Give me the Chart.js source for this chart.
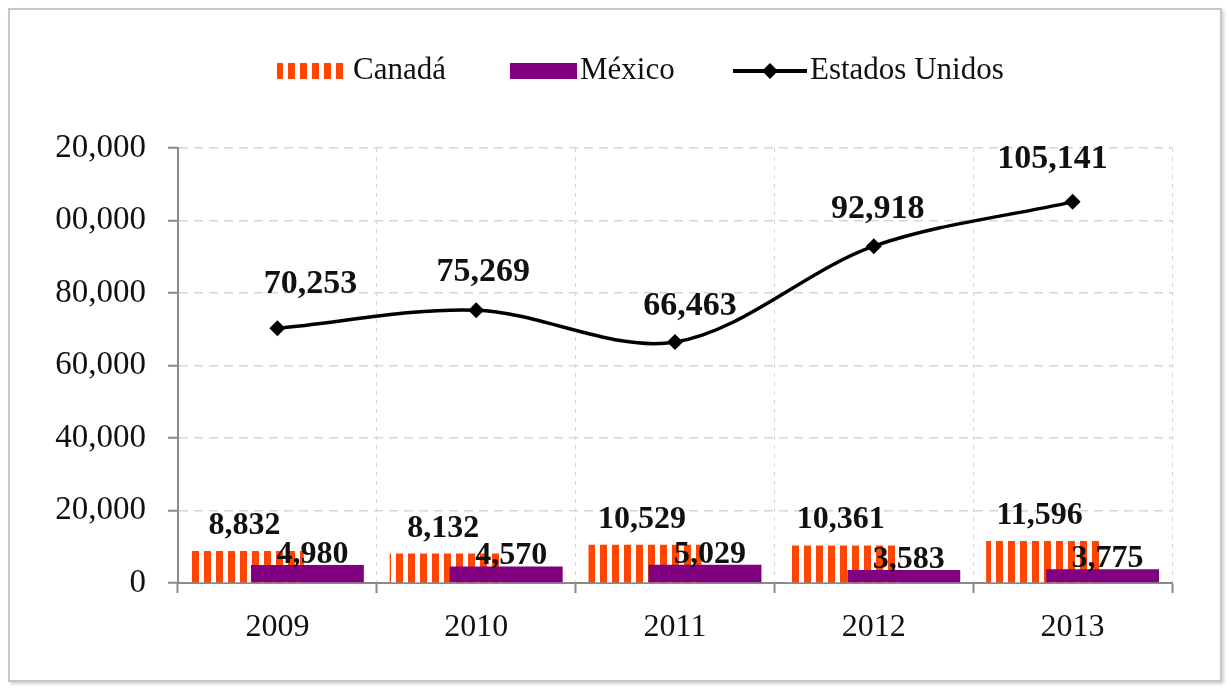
<!DOCTYPE html>
<html lang="es">
<head>
<meta charset="utf-8">
<title>Canadá, México y Estados Unidos 2009–2013</title>
<script src="https://cdn.jsdelivr.net/npm/chart.js@4.4.1/dist/chart.umd.min.js"></script>
<style>
  html, body { margin: 0; padding: 0; background: #fff; }
  #wrap { position: relative; width: 1227px; height: 688px; }
  #frame {
    position: absolute; left: 8px; top: 8px;
    width: 1210px; height: 670px;
    border: 2px solid #c6c6c6;
    box-shadow: 2px 2px 3px rgba(0, 0, 0, 0.18);
    pointer-events: none;
  }
</style>
</head>
<body>
<div id="wrap">
  <canvas id="chart"></canvas>
  <div id="frame"></div>
</div>
<script>
// ─── DATA ────────────────────────────────────────────
const years  = ['2009', '2010', '2011', '2012', '2013'];
const canada = [8832, 8132, 10529, 10361, 11596];
const mexico = [4980, 4570, 5029, 3583, 3775];
const eeuu   = [70253, 75269, 66463, 92918, 105141];
const yTickLabels = ['0', '20,000', '40,000', '60,000', '80,000', '00,000', '20,000'];

// ─── STYLE ───────────────────────────────────────────
const ORANGE = '#ff4500';
const PURPLE = '#800080';
const INK    = '#111111';
const AXIS   = '#8a8a8a';
const GRID   = '#d6d6d6';
const SERIF  = '"Liberation Serif", "Times New Roman", serif';

// label nudges for the line values [dx, dy from the point]
const lineNudge = [[33, -35], [7, -29], [15, -27], [4, -28], [-20, -34]];

// vertical orange/white stripes for Canadá
function stripePattern() {
  const c = document.createElement('canvas');
  c.width = 12; c.height = 8;
  const g = c.getContext('2d');
  g.fillStyle = '#ffffff';
  g.fillRect(0, 0, 12, 8);
  g.fillStyle = ORANGE;
  g.fillRect(0, 0, 7, 8);
  return g.createPattern(c, 'repeat');
}

const canvas = document.getElementById('chart');
const ctx = canvas.getContext('2d');
const stripes = stripePattern();

const fmt = v => v.toLocaleString('en-US');

// México goes on top of Canadá while keeping Canadá on the left of the group
const barLayering = {
  id: 'barLayering',
  beforeDatasetDraw(chart, args) {
    if (args.index === 1) return false;
  },
  afterDatasetDraw(chart, args) {
    if (args.index === 0) chart.getDatasetMeta(1).controller.draw();
  },
};

// value labels above bars and points
const valueLabels = {
  id: 'valueLabels',
  afterDatasetsDraw(chart) {
    const c = chart.ctx;
    c.save();
    c.fillStyle = INK;
    c.textAlign = 'center';
    c.textBaseline = 'alphabetic';

    c.font = `bold 32px ${SERIF}`;
    chart.getDatasetMeta(0).data.forEach((bar, i) => {
      c.fillText(fmt(canada[i]), bar.x - 3, bar.y - 17);
    });
    chart.getDatasetMeta(1).data.forEach((bar, i) => {
      c.fillText(fmt(mexico[i]), bar.x + 5, bar.y - 2);
    });

    c.font = `bold 34px ${SERIF}`;
    chart.getDatasetMeta(2).data.forEach((pt, i) => {
      const [dx, dy] = lineNudge[i];
      c.fillText(fmt(eeuu[i]), pt.x + dx, pt.y + dy);
    });
    c.restore();
  },
};

// legend row across the top
const legendRow = {
  id: 'legendRow',
  afterDraw(chart) {
    const c = chart.ctx;
    const cy = 71;
    c.save();
    c.fillStyle = stripes;
    c.fillRect(277, 63, 68, 16);
    c.fillStyle = PURPLE;
    c.fillRect(510, 63, 67, 16);

    c.strokeStyle = '#000';
    c.lineWidth = 4;
    c.beginPath();
    c.moveTo(733, cy);
    c.lineTo(807, cy);
    c.stroke();
    c.fillStyle = '#000';
    c.beginPath();
    c.moveTo(770, cy - 8);
    c.lineTo(778, cy);
    c.lineTo(770, cy + 8);
    c.lineTo(762, cy);
    c.closePath();
    c.fill();

    c.fillStyle = INK;
    c.font = `31px ${SERIF}`;
    c.textAlign = 'left';
    c.textBaseline = 'middle';
    c.fillText('Canadá', 353, cy);
    c.fillText('México', 580, cy);
    c.fillText('Estados Unidos', 810, cy);
    c.restore();
  },
};

new Chart(ctx, {
  data: {
    labels: years,
    datasets: [
      {
        type: 'bar',
        label: 'Canadá',
        data: canada,
        backgroundColor: stripes,
        categoryPercentage: 0.604,
        barPercentage: 1.88,
      },
      {
        type: 'bar',
        label: 'México',
        data: mexico,
        backgroundColor: PURPLE,
        categoryPercentage: 0.604,
        barPercentage: 1.88,
      },
      {
        type: 'line',
        label: 'Estados Unidos',
        data: eeuu,
        borderColor: '#000',
        borderWidth: 3.5,
        tension: 0.33,
        pointStyle: 'rectRot',
        pointRadius: 8,
        pointBackgroundColor: '#000',
        pointBorderColor: '#000',
        pointBorderWidth: 0,
      },
    ],
  },
  options: {
    responsive: true,
    maintainAspectRatio: false,
    animation: false,
    events: [],
    layout: { padding: { top: 148, right: 55, left: 0, bottom: 0 } },
    plugins: {
      legend: { display: false },
      tooltip: { enabled: false },
    },
    scales: {
      x: {
        offset: true,
        grid: {
          offset: true,
          color: GRID,
          lineWidth: 1,
          tickLength: 10,
          tickColor: AXIS,
          tickWidth: 2,
        },
        border: { color: AXIS, width: 2, dash: [4, 5] },
        ticks: { color: INK, padding: 15, font: { family: SERIF, size: 32 } },
        afterFit: s => { s.height = 105; },
      },
      y: {
        min: 0,
        max: 120000,
        ticks: {
          stepSize: 20000,
          color: INK,
          padding: 22,
          font: { family: SERIF, size: 33 },
          callback: (v, i) => yTickLabels[i],
        },
        grid: {
          color: GRID,
          lineWidth: 1.5,
          tickLength: 10,
          tickColor: AXIS,
          tickWidth: 2,
        },
        border: { color: AXIS, width: 2, dash: [9, 6] },
        afterFit: s => { s.width = 178; },
      },
    },
  },
  plugins: [barLayering, valueLabels, legendRow],
});
</script>
</body>
</html>
